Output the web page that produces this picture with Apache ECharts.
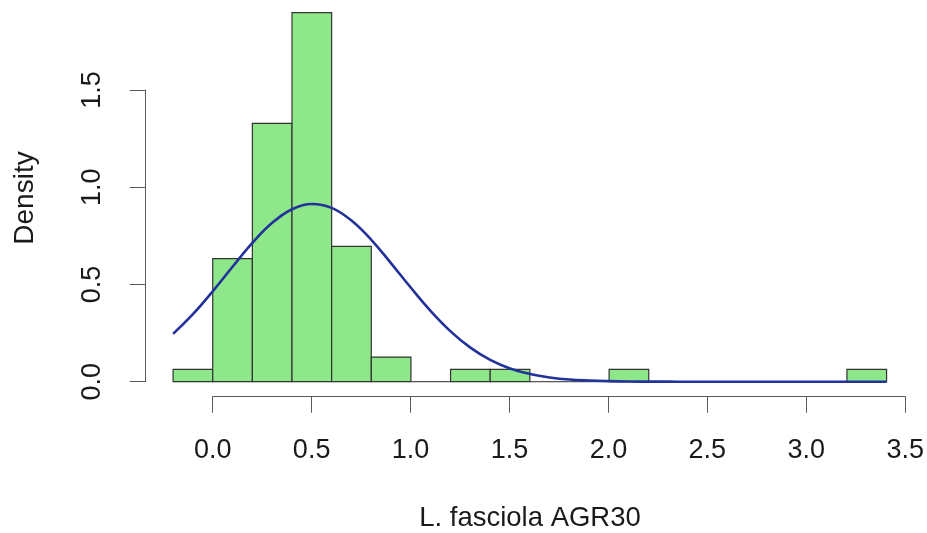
<!DOCTYPE html>
<html>
<head>
<meta charset="utf-8">
<script src="https://cdn.jsdelivr.net/npm/echarts@6/dist/echarts.min.js"></script>
<style>html,body{margin:0;padding:0;background:#fff}#c{width:927px;height:533px}</style>
</head>
<body>
<div id="c"></div>
<script>
// Histogram bins (left edges, right edges) and densities (n = 79, bin width 0.2)
const binStart = [-0.2, 0.0, 0.2, 0.4, 0.6, 0.8, 1.0, 1.2, 1.4, 1.6, 1.8, 2.0, 2.2, 2.4, 2.6, 2.8, 3.0, 3.2];
const binEnd   = [ 0.0, 0.2, 0.4, 0.6, 0.8, 1.0, 1.2, 1.4, 1.6, 1.8, 2.0, 2.2, 2.4, 2.6, 2.8, 3.0, 3.2, 3.4];
const density  = [0.0633, 0.6329, 1.3291, 1.8987, 0.6962, 0.1266, 0, 0.0633, 0.0633, 0, 0, 0.0633, 0, 0, 0, 0, 0, 0.0633];

// Fitted density curve
const curveX = [-0.2, -0.1, 0.0, 0.1, 0.2, 0.3, 0.4, 0.5, 0.6, 0.7, 0.8, 0.9, 1.0, 1.1, 1.2, 1.3, 1.4, 1.5, 1.6, 1.7, 1.8, 1.9, 2.0, 2.1, 2.2, 2.3, 2.4, 2.6, 2.8, 3.0, 3.2, 3.4];
const curveY = [0.246, 0.347, 0.465, 0.591, 0.714, 0.817, 0.887, 0.914, 0.894, 0.829, 0.730, 0.609, 0.483, 0.363, 0.259, 0.175, 0.112, 0.068, 0.040, 0.022, 0.011, 0.006, 0.003, 0.001, 0.0005, 0.0002, 0, 0, 0, 0, 0, 0];

const xTicks = ['0.0', '0.5', '1.0', '1.5', '2.0', '2.5', '3.0', '3.5'];
const yTicks = ['0.0', '0.5', '1.0', '1.5'];
const xTitle = 'L. fasciola AGR30';
const yTitle = 'Density';

const FONT = 'Liberation Sans, Arial, Helvetica, sans-serif';
const TXT = '#1a1a1a';
const AX = '#5a5a5a';

const chart = echarts.init(document.getElementById('c'), null, {renderer: 'canvas'});

const histData = binStart.map((s, i) => [s, binEnd[i], density[i]]);
const curveData = curveX.map((x, i) => [x, curveY[i]]);

chart.setOption({
  animation: false,
  backgroundColor: '#ffffff',
  grid: [
    {left: 173.1, top: 12.3, width: 733.3, height: 369.4},
    {left: 212.7, top: 90, width: 693.7, height: 291.7}
  ],
  xAxis: [
    {gridIndex: 0, type: 'value', min: -0.2, max: 3.5, show: false},
    {gridIndex: 1, type: 'value', min: 0, max: 3.5, interval: 0.5, position: 'bottom', offset: 15,
     axisLine: {show: true, onZero: false, lineStyle: {color: AX, width: 1}},
     axisTick: {show: true, length: 16, lineStyle: {color: AX, width: 1}},
     splitLine: {show: false},
     axisLabel: {margin: 40, fontSize: 27, fontFamily: FONT, color: TXT,
       formatter: (v) => xTicks[Math.round(v / 0.5)]}}
  ],
  yAxis: [
    {gridIndex: 0, type: 'value', min: 0, max: 1.9, show: false},
    {gridIndex: 1, type: 'value', min: 0, max: 1.5, interval: 0.5, position: 'left', offset: 67,
     axisLine: {show: true, onZero: false, lineStyle: {color: AX, width: 1}},
     axisTick: {show: true, length: 16, lineStyle: {color: AX, width: 1}},
     splitLine: {show: false},
     axisLabel: {margin: 40, rotate: 90, fontSize: 27, fontFamily: FONT, color: TXT,
       formatter: (v) => yTicks[Math.round(v / 0.5)]}}
  ],
  graphic: [
    {type: 'text', x: 530, y: 518, silent: true,
     style: {text: xTitle, font: '27.5px ' + FONT, fill: TXT, align: 'center', verticalAlign: 'middle'}},
    {type: 'text', x: 25, y: 198, rotation: Math.PI / 2, silent: true,
     style: {text: yTitle, font: '28px ' + FONT, fill: TXT, align: 'center', verticalAlign: 'middle'}}
  ],
  series: [
    {
      type: 'custom', xAxisIndex: 0, yAxisIndex: 0, z: 2, clip: false,
      data: histData,
      renderItem: function (params, api) {
        const x0 = api.value(0), x1 = api.value(1), h = api.value(2);
        const p0 = api.coord([x0, h]);
        const p1 = api.coord([x1, 0]);
        if (h <= 0) {
          return {type: 'line', shape: {x1: p0[0], y1: p1[1], x2: p1[0], y2: p1[1]},
                  style: {stroke: '#555', lineWidth: 1.2}};
        }
        return {type: 'rect',
          shape: {x: p0[0], y: p0[1], width: p1[0] - p0[0], height: p1[1] - p0[1]},
          style: {fill: '#8ee88a', stroke: '#333', lineWidth: 1.2}};
      }
    },
    {
      type: 'line', xAxisIndex: 0, yAxisIndex: 0, z: 3,
      data: curveData, smooth: 0.4, showSymbol: false, symbol: 'none',
      lineStyle: {color: '#22329a', width: 2.6}
    }
  ]
});
</script>
</body>
</html>
